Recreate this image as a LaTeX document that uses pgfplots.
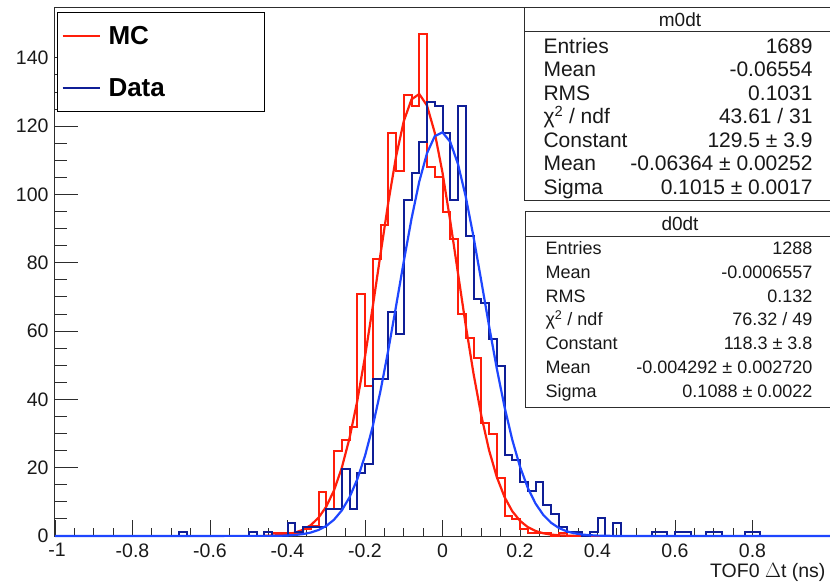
\documentclass[border=0pt]{standalone}
\usepackage{pgfplots}
\pgfplotsset{compat=1.18}
\usepackage{fontspec}
\setmainfont{Liberation Sans}
\definecolor{mcred}{RGB}{255,30,10}
\definecolor{datablue}{RGB}{15,30,150}
\definecolor{fitblue}{RGB}{30,70,255}
\definecolor{framegray}{RGB}{45,45,45}
\definecolor{stattext}{RGB}{25,25,25}
\begin{document}
\begin{tikzpicture}
\begin{axis}[
  at={(0pt,0pt)}, anchor=south west,
  width=775pt, height=528pt, scale only axis,
  xmin=-1, xmax=1, ymin=0, ymax=154.6,
  clip=false,
  axis line style={framegray, line width=1pt},
  tick align=inside, tick pos=left,
  major tick length=16pt, minor tick length=8pt,
  every major y tick/.append style={/pgfplots/major tick length=23pt},
  every minor y tick/.append style={/pgfplots/minor tick length=12pt},
  tick style={framegray, line width=0.9pt},
  xtick={-1,-0.8,-0.6,-0.4,-0.2,0,0.2,0.4,0.6,0.8},
  xticklabels={\makebox[0pt][c]{\hspace{4pt}-1},-0.8,-0.6,-0.4,-0.2,0,0.2,0.4,0.6,0.8},
  minor x tick num=3,
  ytick={0,20,40,60,80,100,120,140},
  minor y tick num=3,
  /pgf/number format/assume math mode=true,
  tick label style={font=\fontsize{19.5}{22}\selectfont, text=stattext},
  xticklabel style={yshift=-4pt},
  yticklabel style={xshift=-3pt},
  legend style={at={(rel axis cs:0.0026,0.9924)}, anchor=north west,
    draw=black, line width=1pt, fill=white,
    inner xsep=4pt, inner ysep=12pt, row sep=28pt, column sep=6pt,
    nodes={inner sep=2pt},
    font=\fontsize{26}{30}\selectfont\bfseries},
  legend cell align=left,
  legend image code/.code={\draw[#1,line width=2pt] (0pt,0pt) -- (37pt,0pt);},
]
% MC histogram (bin low edges, width 0.02)
\addplot[const plot mark left, mcred, line width=2pt] coordinates {
(-1,0) (-0.46,0) (-0.44,1) (-0.42,1) (-0.40,1) (-0.38,1) (-0.36,2) (-0.34,3)
(-0.32,13) (-0.30,8) (-0.28,25) (-0.26,28) (-0.24,32) (-0.22,71) (-0.20,44)
(-0.18,81) (-0.16,91) (-0.14,118) (-0.12,107) (-0.10,129) (-0.08,126)
(-0.06,147) (-0.04,108) (-0.02,105) (0.00,95) (0.02,87) (0.04,65) (0.06,58)
(0.08,52) (0.10,33) (0.12,30) (0.14,17) (0.16,6) (0.18,5) (0.20,2) (0.22,1)
(0.24,1) (0.26,1) (0.28,0) (0.30,1) (0.32,0) (1,0)};
\addlegendentry{\makebox[150pt][l]{MC}}
% MC gaussian fit
\addplot[mcred, line width=2.2pt, forget plot] coordinates {
(-0.46,0.063) (-0.44,0.134) (-0.42,0.273) (-0.40,0.534) (-0.38,1.006)
(-0.36,1.823) (-0.34,3.179) (-0.32,5.331) (-0.30,8.607) (-0.28,13.35)
(-0.26,19.93) (-0.24,28.62) (-0.22,39.53) (-0.20,52.52) (-0.18,67.13)
(-0.16,82.52) (-0.14,97.58) (-0.12,111.0) (-0.10,121.45) (-0.08,127.83)
(-0.06,129.42) (-0.04,126.03) (-0.02,118.07) (0.00,106.39) (0.02,92.22)
(0.04,76.89) (0.06,61.67) (0.08,47.57) (0.10,35.31) (0.12,25.20)
(0.14,17.31) (0.16,11.43) (0.18,7.264) (0.20,4.439) (0.22,2.610)
(0.24,1.475) (0.26,0.803) (0.28,0.420) (0.30,0.211) (0.32,0.102) (0.34,0.048)};
% Data histogram (scaled)
\addplot[const plot mark left, datablue, line width=2pt] coordinates {
(-1,0) (-0.68,1.31) (-0.66,0) (-0.50,1.31) (-0.48,0) (-0.46,1.31) (-0.44,0)
(-0.40,3.93) (-0.38,1.31) (-0.36,2.62) (-0.34,2.62) (-0.32,2.62)
(-0.30,7.87) (-0.28,7.87) (-0.26,19.67) (-0.24,7.87) (-0.22,18.36)
(-0.20,20.98) (-0.18,45.90) (-0.16,45.90) (-0.14,65.57) (-0.12,59.01)
(-0.10,98.35) (-0.08,106.22) (-0.06,115.40) (-0.04,127.20) (-0.02,125.89)
(0.00,118.02) (0.02,98.35) (0.04,125.89) (0.06,87.86) (0.08,69.50)
(0.10,68.19) (0.12,57.70) (0.14,49.83) (0.16,23.60) (0.18,22.29)
(0.20,15.74) (0.22,13.11) (0.24,15.74) (0.26,9.18) (0.28,6.56) (0.30,2.62)
(0.32,1.31) (0.34,1.31) (0.36,0) (0.38,1.31) (0.40,5.25) (0.42,0) (0.44,3.93)
(0.46,0) (0.54,1.31) (0.58,0) (0.60,1.31) (0.64,0) (0.68,1.31) (0.72,0)
(0.78,1.31) (0.82,0) (1,0)};
\addlegendentry{\makebox[150pt][l]{Data}}
% Data gaussian fit
\addplot[fitblue, line width=2.2pt, forget plot] coordinates {
(-1,0) (-0.44,0.039) (-0.42,0.080) (-0.40,0.159) (-0.38,0.305) (-0.36,0.565)
(-0.34,1.013) (-0.32,1.757) (-0.30,2.945) (-0.28,4.770) (-0.26,7.473)
(-0.24,11.32) (-0.22,16.58) (-0.20,23.46) (-0.18,32.11) (-0.16,42.49)
(-0.14,54.35) (-0.12,67.20) (-0.10,80.35) (-0.08,92.87) (-0.06,103.77)
(-0.04,112.09) (-0.02,117.07) (0.00,118.21) (0.02,115.39) (0.04,108.89)
(0.06,99.35) (0.08,87.63) (0.10,74.73) (0.12,61.60) (0.14,49.10)
(0.16,37.83) (0.18,28.18) (0.20,20.30) (0.22,14.13) (0.24,9.511)
(0.26,6.191) (0.28,3.894) (0.30,2.368) (0.32,1.392) (0.34,0.791)
(0.36,0.435) (0.38,0.231) (0.40,0.119) (0.44,0.028) (1,0)};
\end{axis}
% x axis title
\node[anchor=base east, font=\fontsize{19.5}{22}\selectfont, text=stattext] at (774pt,-41pt) {TOF0 $\Delta$t (ns)};
% stat box m0dt
\begin{scope}[font=\fontsize{21}{24}\selectfont, text=stattext]
\draw[framegray, line width=1pt, fill=white] (469pt,335pt) rectangle (781pt,528pt);
\draw[framegray, line width=1pt] (469pt,504.3pt) -- (781pt,504.3pt);
\node[font=\fontsize{19}{22}\selectfont] at (625pt,516.3pt) {m0dt};
\node[anchor=base west] at (485pt,482.5pt) {Entries};
\node[anchor=base east] at (761pt,482.5pt) {1689};
\node[anchor=base west] at (485pt,459pt) {Mean};
\node[anchor=base east] at (761pt,459pt) {-0.06554};
\node[anchor=base west] at (485pt,435.5pt) {RMS};
\node[anchor=base east] at (761pt,435.5pt) {0.1031};
\node[anchor=base west] at (485pt,412pt) {χ\textsuperscript{2} / ndf};
\node[anchor=base east] at (761pt,412pt) {43.61 / 31};
\node[anchor=base west] at (485pt,388.5pt) {Constant};
\node[anchor=base east] at (761pt,388.5pt) {129.5 ± 3.9};
\node[anchor=base west] at (485pt,365pt) {Mean};
\node[anchor=base east] at (761pt,365pt) {-0.06364 ± 0.00252};
\node[anchor=base west] at (485pt,341.5pt) {Sigma};
\node[anchor=base east] at (761pt,341.5pt) {0.1015 ± 0.0017};
\end{scope}
% stat box d0dt
\begin{scope}[font=\fontsize{18}{21}\selectfont, text=stattext]
\draw[framegray, line width=1pt, fill=white] (470pt,129pt) rectangle (781pt,325pt);
\draw[framegray, line width=1pt] (470pt,300pt) -- (781pt,300pt);
\node[font=\fontsize{19}{22}\selectfont] at (625pt,312.5pt) {d0dt};
\node[anchor=base west] at (487pt,281.6pt) {Entries};
\node[anchor=base east] at (761pt,281.6pt) {1288};
\node[anchor=base west] at (487pt,257.8pt) {Mean};
\node[anchor=base east] at (761pt,257.8pt) {-0.0006557};
\node[anchor=base west] at (487pt,233.9pt) {RMS};
\node[anchor=base east] at (761pt,233.9pt) {0.132};
\node[anchor=base west] at (487pt,210.1pt) {χ\textsuperscript{2} / ndf};
\node[anchor=base east] at (761pt,210.1pt) {76.32 / 49};
\node[anchor=base west] at (487pt,186.3pt) {Constant};
\node[anchor=base east] at (761pt,186.3pt) {118.3 ± 3.8};
\node[anchor=base west] at (487pt,162.4pt) {Mean};
\node[anchor=base east] at (761pt,162.4pt) {-0.004292 ± 0.002720};
\node[anchor=base west] at (487pt,138.6pt) {Sigma};
\node[anchor=base east] at (761pt,138.6pt) {0.1088 ± 0.0022};
\end{scope}
\pgfresetboundingbox
\path[use as bounding box] (-55pt,-46pt) rectangle (775pt,536pt);
\end{tikzpicture}
\end{document}
